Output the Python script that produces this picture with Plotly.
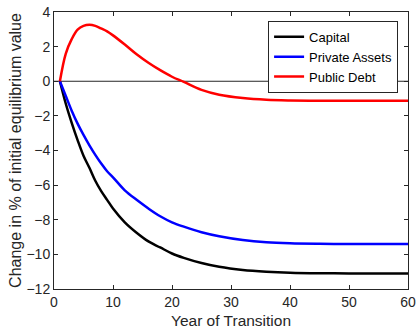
import plotly.graph_objects as go

years = [1, 2, 3, 4, 5, 6, 7, 8, 9, 10, 12, 14, 16, 18, 20, 22, 25, 28, 32, 36, 40, 45, 50, 55, 60]
capital = [0, -1.3, -2.4, -3.4, -4.3, -5.0, -5.75, -6.35, -6.85, -7.35, -8.15, -8.75, -9.25, -9.6,
           -9.95, -10.2, -10.5, -10.72, -10.9, -11.0, -11.06, -11.09, -11.1, -11.1, -11.1]
private_assets = [0, -0.85, -1.7, -2.45, -3.1, -3.7, -4.25, -4.75, -5.2, -5.55, -6.3, -6.85, -7.35, -7.8,
                  -8.15, -8.4, -8.72, -8.95, -9.17, -9.3, -9.36, -9.39, -9.4, -9.4, -9.4]
public_debt = [0, 1.6, 2.43, 2.98, 3.2, 3.26, 3.2, 3.05, 2.88, 2.65, 2.12, 1.56, 1.07, 0.64,
               0.26, -0.04, -0.5, -0.78, -0.97, -1.07, -1.11, -1.13, -1.13, -1.13, -1.13]

series = [("Capital", capital, "#000000"),
          ("Private Assets", private_assets, "#0000ff"),
          ("Public Debt", public_debt, "#ff0000")]

x_title = "Year of Transition"
y_title = "Change in % of initial equilibrium value"

font_family = "Liberation Sans, Arial, sans-serif"
axis_col = "#262626"

fig = go.Figure()
fig.add_shape(type="line", xref="paper", x0=0, x1=1, yref="y", y0=0, y1=0,
              line=dict(color=axis_col, width=1), layer="below")
for name, vals, col in series:
    fig.add_trace(go.Scatter(x=years, y=vals, mode="lines", name=name,
                             line=dict(color=col, width=2.5, shape="spline", smoothing=1.0)))

axis_common = dict(showgrid=False, zeroline=False, showline=True, linecolor=axis_col,
                   linewidth=1, mirror="ticks", ticks="inside", ticklen=4, automargin=False,
                   tickcolor=axis_col, tickfont=dict(size=14, color=axis_col, family=font_family))

fig.add_annotation(text=x_title, xref="paper", yref="paper", x=0.5, y=-0.112,
                   xanchor="center", yanchor="middle", showarrow=False,
                   font=dict(size=15.5, color=axis_col, family=font_family))

fig.update_layout(
    width=417, height=329,
    margin=dict(l=54, r=9, t=12, b=40),
    plot_bgcolor="white", paper_bgcolor="white",
    font=dict(family=font_family, color=axis_col),
    xaxis=dict(range=[0, 60], tickvals=[0, 10, 20, 30, 40, 50, 60], **axis_common),
    yaxis=dict(range=[-12, 4], tickvals=list(range(-12, 5, 2)),
               title=dict(text=y_title, font=dict(size=16), standoff=0),
               **axis_common),
    legend=dict(x=0.972, y=0.968, xanchor="right", yanchor="top",
                bordercolor=axis_col, borderwidth=1, bgcolor="white",
                font=dict(size=13, color="#000000", family=font_family),
                tracegroupgap=0, itemwidth=30),
    showlegend=True,
)

fig.write_html("out.html")
